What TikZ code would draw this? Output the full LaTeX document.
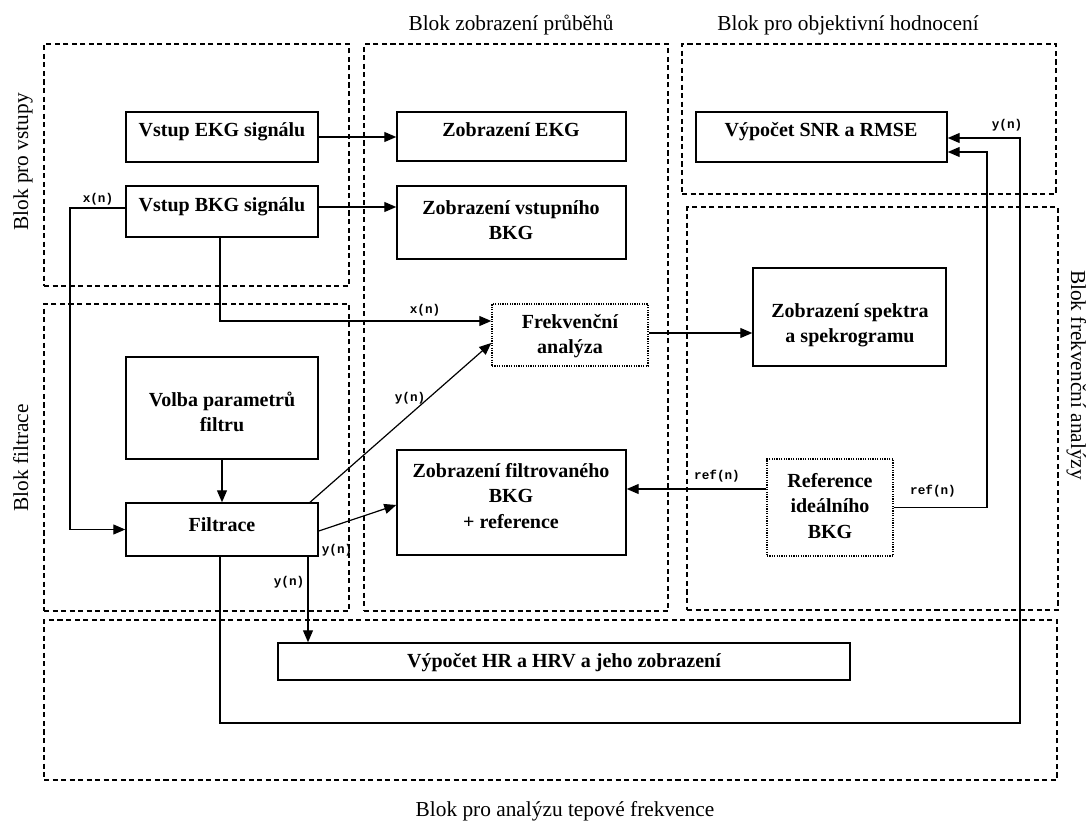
\documentclass[tikz,border=0pt]{standalone}
\usepackage{fontspec}
\setmainfont{Liberation Serif}
\setmonofont{Liberation Mono}
\usetikzlibrary{arrows.meta,fit}
\begin{document}
\begin{tikzpicture}[x=0.75pt,y=-0.75pt,
  region/.style={draw, line width=0.9pt, dash pattern=on 3.8pt off 2.6pt, inner sep=0pt},
  box/.style={draw, line width=1.1pt, inner sep=0pt},
  dotbox/.style={draw, line width=1.1pt, dash pattern=on 0.9pt off 0.9pt, inner sep=0pt},
  txt/.style={font=\fontsize{15}{19}\selectfont\bfseries, align=center, inner sep=0pt},
  head/.style={font=\fontsize{16}{19}\selectfont, inner sep=0pt, anchor=base},
  sig/.style={font=\ttfamily\bfseries\fontsize{9.5}{12}\selectfont, inner sep=0pt},
  wire/.style={line width=0.9pt},
  conn/.style={wire, -{Triangle[length=9pt,width=7.5pt]}}
]
\path[fill=white, use as bounding box] (0,0) rectangle (1088,823);

% regions
\node[region, fit={(44,44) (349,286)}] (rIn) {};
\node[region, fit={(44,304) (349,611)}] (rFil) {};
\node[region, fit={(364,44) (668,611)}] (rZob) {};
\node[region, fit={(682,44) (1056,194)}] (rObj) {};
\node[region, fit={(687,207) (1058,610)}] (rFrq) {};
\node[region, fit={(44,620) (1057,780)}] (rHR) {};

% region labels
\node[head] (hZob) at (511,31) {Blok zobrazení průběhů};
\node[head] (hObj) at (848,31) {Blok pro objektivní hodnocení};
\node[head, rotate=90] (hIn) at (28,162) {Blok pro vstupy};
\node[head, rotate=90] (hFil) at (28,458) {Blok filtrace};
\node[head, rotate=-90] (hFrq) at (1071,375) {Blok frekvenční analýzy};
\node[head] (hHR) at (565,816) {Blok pro analýzu tepové frekvence};

% boxes
\node[box, fit={(126,112) (318,162)}] (ekg) {};
\node[box, fit={(126,186) (318,237)}] (bkg) {};
\node[box, fit={(397,112) (626,161)}] (zekg) {};
\node[box, fit={(397,186) (626,259)}] (zbkg) {};
\node[box, fit={(696,112) (947,162)}] (snr) {};
\node[dotbox, fit={(492,304) (648,366)}] (fa) {};
\node[box, fit={(753,268) (946,366)}] (spec) {};
\node[box, fit={(126,357) (318,459)}] (volba) {};
\node[box, fit={(126,503) (318,556)}] (filt) {};
\node[box, fit={(397,450) (626,555)}] (zfilt) {};
\node[dotbox, fit={(767,459) (893,556)}] (ref) {};
\node[box, fit={(278,643) (850,680)}] (hr) {};

% box texts
\node[txt, anchor=base] (ekgT) at (222,137) {Vstup EKG signálu};
\node[txt, anchor=base] (bkgT) at (222,212) {Vstup BKG signálu};
\node[txt, anchor=base] (zekgT) at (511,137) {Zobrazení EKG};
\node[txt] (zbkgT) at (511,220) {Zobrazení vstupního\\BKG};
\node[txt, anchor=base] (snrT) at (821,137) {Výpočet SNR a RMSE};
\node[txt] (faT) at (570,336) {Frekvenční\\analýza};
\node[txt] (specT) at (850,325) {Zobrazení spektra\\a spekrogramu};
\node[txt] (volbaT) at (222,412) {Volba parametrů\\filtru};
\node[txt, anchor=base] (filtT) at (222,531) {Filtrace};
\node[txt] (zfiltT) at (511,496) {Zobrazení filtrovaného\\BKG\\+ reference};
\node[txt] (refT) at (830,506) {Reference\\ideálního\\BKG};
\node[txt, anchor=base] (hrT) at (564,667) {Výpočet HR a HRV a jeho zobrazení};

% helper coordinates
\coordinate (r207) at (0,207);
\coordinate (p1) at (70,208);
\coordinate (p2) at (220,321);
\coordinate (r343) at (0,343);
\coordinate (c310) at (310,0);
\coordinate (c308) at (308,0);
\coordinate (r531) at (0,531);
\coordinate (r505) at (0,505);
\coordinate (p3) at (220,723);
\coordinate (p4) at (1020,723);
\coordinate (r138) at (0,138);
\coordinate (r152) at (0,152);
\coordinate (c987) at (987,0);
\coordinate (r489) at (0,489);
\coordinate (r333) at (0,333);

% connectors
\draw[conn] (ekg.east) -- (zekg.west |- ekg.east);
\draw[conn] (bkg.east |- r207) -- (zbkg.west |- r207);
\draw[conn] (bkg.west |- p1) -- (p1) |- (filt.west);
\draw[conn] (bkg.south -| p2) -- (p2) -- (fa.west |- p2);
\draw[conn] (volba.south) -- (filt.north);
\draw[conn] (filt.north -| c310) -- (fa.west |- r343);
\draw[conn] (filt.east |- r531) -- (zfilt.west |- r505);
\draw[conn] (filt.south -| c308) -- (hr.north -| c308);
\draw[conn] (filt.south -| p3) -- (p3) -- (p4) |- (snr.east |- r138);
\draw[conn] (ref.east) -| (c987 |- r152) -- (snr.east |- r152);
\draw[conn] (ref.west |- r489) -- (zfilt.east |- r489);
\draw[conn] (fa.east |- r333) -- (spec.west |- r333);

% signal labels
\node[sig] (s1) at (98,199) {x(n)};
\node[sig] (s2) at (425,310) {x(n)};
\node[sig] (s3) at (410,398) {y(n)};
\node[sig] (s4) at (337,550) {y(n)};
\node[sig] (s5) at (289,582) {y(n)};
\node[sig] (s6) at (1007,125) {y(n)};
\node[sig] (s7) at (717,476) {ref(n)};
\node[sig] (s8) at (933,491) {ref(n)};
\end{tikzpicture}
\end{document}
